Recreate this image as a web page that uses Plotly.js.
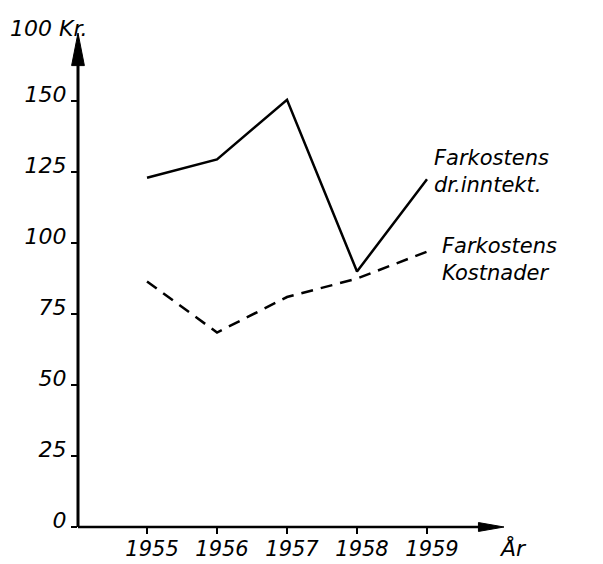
<!DOCTYPE html>
<html><head><meta charset="utf-8">
<script src="https://cdn.plot.ly/plotly-3.0.1.min.js"></script>
<style>body{margin:0;background:#fff}#c{width:603px;height:564px}</style>
</head><body><div id="c"></div>
<script>
const years = [1955, 1956, 1957, 1958, 1959];
const inntekt = [123, 129.5, 150.5, 90, 122.5];
const kostnader = [86.5, 68.5, 81, 87.5, 97];
const yTicks = [0, 25, 50, 75, 100, 125, 150];
const yTickText = ['0', '25', '50', '75', '100', '125', '150'];
const xTickText = ['1955', '1956', '1957', '1958', '1959'];
const label1 = ['Farkostens', 'dr.inntekt.'];
const label2 = ['Farkostens', 'Kostnader'];

const FF = 'DejaVu Sans, Liberation Sans, sans-serif';
const F = {family: FF, size: 22, color: '#000', style: 'italic'};
const FX = {family: FF, size: 21, color: '#000', style: 'italic'};
const FL = {family: FF, size: 21, color: '#000', style: 'italic'};

const traces = [
  {x: years, y: inntekt, mode: 'lines', line: {color: '#000', width: 2.5}, name: 'inntekt'},
  {x: years, y: kostnader, mode: 'lines', line: {color: '#000', width: 2.5, dash: '12px,8px'}, name: 'kostnader'}
];

function txt(x, y, t, f) {
  return {xref: 'paper', yref: 'paper', x: x, y: y, xanchor: 'left', yanchor: 'middle', align: 'left', text: t, showarrow: false, font: f};
}

const layout = {
  width: 603, height: 564,
  margin: {l: 78, r: 99, t: 33, b: 37},
  paper_bgcolor: '#fff', plot_bgcolor: '#fff',
  showlegend: false,
  xaxis: {
    range: [1954.014, 1960.1], tickvals: years, ticktext: xTickText,
    showgrid: false, zeroline: false, showline: false,
    ticks: 'outside', ticklen: 6, tickwidth: 1.5, tickcolor: '#000',
    tickfont: FX, ticklabelshift: 5, ticklabelstandoff: -3, fixedrange: true
  },
  yaxis: {
    range: [0, 174], tickvals: yTicks, ticktext: yTickText,
    showgrid: false, zeroline: false, showline: false,
    ticks: 'outside', ticklen: 6, tickwidth: 1.5, tickcolor: '#000',
    tickfont: F, ticklabelshift: -7, ticklabelstandoff: 0, fixedrange: true
  },
  shapes: [
    {type: 'line', xref: 'paper', yref: 'paper', x0: 0, x1: 0, y0: 0, y1: 0.94, line: {color: '#000', width: 3}},
    {type: 'path', xref: 'paper', yref: 'paper', path: 'M -0.015 0.934 L 0 1 L 0.015 0.934 Z', fillcolor: '#000', line: {color: '#000', width: 1}},
    {type: 'line', xref: 'paper', yref: 'paper', x0: 0, x1: 0.95, y0: 0, y1: 0, line: {color: '#000', width: 2.5}},
    {type: 'path', xref: 'paper', yref: 'paper', path: 'M 0.94 0.009 L 1 0 L 0.94 -0.009 Z', fillcolor: '#000', line: {color: '#000', width: 1}}
  ],
  annotations: [
    txt(-0.164, 1.010, '100 Kr.', F),
    txt(0.984, -0.043, 'År', F),
    txt(0.831, 0.72, label1.join('<br>'), FL),
    txt(0.850, 0.542, label2.join('<br>'), FL)
  ]
};

Plotly.newPlot('c', traces, layout, {displayModeBar: false, staticPlot: true});
</script></body></html>
